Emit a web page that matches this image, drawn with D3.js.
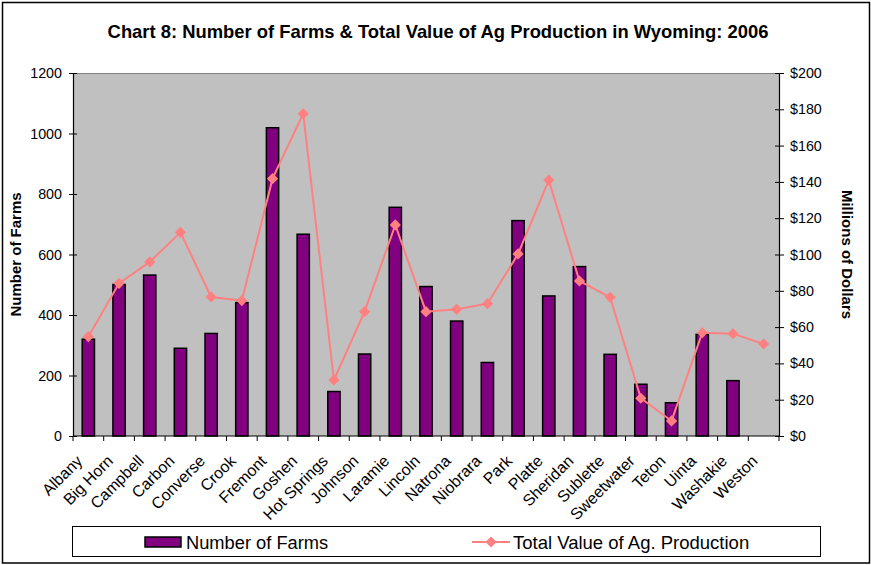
<!DOCTYPE html>
<html>
<head>
<meta charset="utf-8">
<script src="https://cdn.jsdelivr.net/npm/d3@7"></script>
<style>
  body { margin: 0; background: #fff; }
  svg { display: block; font-family: Arial, "Liberation Sans", sans-serif; }
</style>
</head>
<body>
<div id="wrapper"></div>
<script>
const counties = ["Albany", "Big Horn", "Campbell", "Carbon", "Converse", "Crook", "Fremont",
    "Goshen", "Hot Springs", "Johnson", "Laramie", "Lincoln", "Natrona", "Niobrara", "Park",
    "Platte", "Sheridan", "Sublette", "Sweetwater", "Teton", "Uinta", "Washakie", "Weston"];
const farms = [320, 501, 532, 290, 339, 441, 1019, 667, 147, 271, 756, 494, 380, 243, 712,
    463, 560, 270, 171, 110, 336, 183, 0];
const agValue = [54.7, 84.1, 95.9, 112.2, 76.6, 74.6, 141.8, 177.6, 30.9, 68.5, 116.3, 68.5,
    69.8, 72.9, 100.3, 141, 85.4, 76.4, 20.8, 8.3, 56.9, 56.4, 50.7];
const farmTicks = [0, 200, 400, 600, 800, 1000, 1200];
const dollarTicks = [0, 20, 40, 60, 80, 100, 120, 140, 160, 180, 200];

function buildChart() {
    const dims = {
        width: 871,
        height: 565,
        margin: { top: 73, left: 73, bottom: 129, right: 92 }
    };
    dims.boundedWidth = dims.width - dims.margin.left - dims.margin.right;
    dims.boundedHeight = dims.height - dims.margin.top - dims.margin.bottom;

    const svg = d3.select("#wrapper").append("svg")
        .attr("width", dims.width)
        .attr("height", dims.height);

    // outer frame
    svg.append("rect")
        .attr("x", 2.5).attr("y", 2.5)
        .attr("width", dims.width - 4).attr("height", dims.height - 4.5)
        .attr("fill", "#fff")
        .attr("stroke", "#000")
        .attr("stroke-width", 1.5);

    svg.append("text")
        .attr("x", 438)
        .attr("y", 38)
        .attr("text-anchor", "middle")
        .style("font-size", "18.4px")
        .style("font-weight", "bold")
        .text("Chart 8: Number of Farms & Total Value of Ag Production in Wyoming: 2006");

    const bounded = svg.append("g")
        .attr("transform", `translate(${dims.margin.left},${dims.margin.top})`);

    const xScale = d3.scaleBand()
        .domain(counties)
        .range([0, dims.boundedWidth]);

    const yScale = d3.scaleLinear()
        .domain([0, 1200])
        .range([dims.boundedHeight, 0]);

    const y2Scale = d3.scaleLinear()
        .domain([0, 200])
        .range([dims.boundedHeight, 0]);

    bounded.append("rect")
        .attr("width", dims.boundedWidth)
        .attr("height", dims.boundedHeight)
        .attr("fill", "#c0c0c0");
    bounded.append("line")
        .attr("x1", 0).attr("x2", dims.boundedWidth)
        .attr("y1", 0.5).attr("y2", 0.5)
        .attr("stroke", "#808080");

    const barW = xScale.bandwidth() * 0.4;
    bounded.selectAll(".bar")
        .data(counties.map((c, i) => ({ c, v: farms[i] })).filter(d => d.v > 0))
        .join("rect")
        .attr("class", "bar")
        .attr("x", d => xScale(d.c) + xScale.bandwidth() / 2 - barW / 2)
        .attr("y", d => yScale(d.v))
        .attr("width", barW)
        .attr("height", d => dims.boundedHeight - yScale(d.v))
        .attr("fill", "#800080")
        .attr("stroke", "#000")
        .attr("stroke-width", 1.5);

    // axes
    const leftAxis = d3.axisLeft(yScale).tickValues(farmTicks)
        .tickFormat(d3.format("d")).tickSize(0).tickPadding(11);
    const gL = bounded.append("g").call(leftAxis);
    gL.select(".domain").attr("stroke", "#000").attr("stroke-width", 1.2);
    gL.selectAll(".tick").append("line")
        .attr("x1", -4).attr("x2", 4).attr("stroke", "#000");
    gL.selectAll("text").style("font-size", "14.3px").attr("fill", "#000");

    const rightAxis = d3.axisRight(y2Scale).tickValues(dollarTicks)
        .tickFormat(d => "$" + d).tickSize(0).tickPadding(11);
    const gR = bounded.append("g")
        .attr("transform", `translate(${dims.boundedWidth},0)`)
        .call(rightAxis);
    gR.select(".domain").attr("stroke", "#000").attr("stroke-width", 1.2);
    gR.selectAll(".tick").append("line")
        .attr("x1", -4).attr("x2", 5).attr("stroke", "#000");
    gR.selectAll("text").style("font-size", "14.3px").attr("fill", "#000");

    const gB = bounded.append("g")
        .attr("transform", `translate(0,${dims.boundedHeight})`);
    gB.append("line")
        .attr("x1", 0).attr("x2", dims.boundedWidth)
        .attr("stroke", "#000").attr("stroke-width", 1.2);
    const edges = counties.map(c => xScale(c)).concat([dims.boundedWidth]);
    gB.selectAll(".xt")
        .data(edges)
        .join("line")
        .attr("class", "xt")
        .attr("x1", d => d).attr("x2", d => d)
        .attr("y1", 0).attr("y2", 5)
        .attr("stroke", "#000");
    gB.selectAll(".xl")
        .data(counties)
        .join("text")
        .attr("class", "xl")
        .attr("text-anchor", "end")
        .attr("transform", d => `translate(${xScale(d) + xScale.bandwidth() / 2 - 5},${26}) rotate(-45)`)
        .style("font-size", "16px")
        .text(d => d);

    // line series
    const lineGen = d3.line()
        .x((d, i) => xScale(counties[i]) + xScale.bandwidth() / 2)
        .y(d => y2Scale(d));
    bounded.append("path")
        .attr("d", lineGen(agValue))
        .attr("fill", "none")
        .attr("stroke", "#ff8080")
        .attr("stroke-width", 2);
    const diamond = d3.symbol().type(d3.symbolDiamond2).size(80);
    bounded.selectAll(".mk")
        .data(agValue)
        .join("path")
        .attr("class", "mk")
        .attr("d", diamond)
        .attr("transform", (d, i) => `translate(${xScale(counties[i]) + xScale.bandwidth() / 2},${y2Scale(d)})`)
        .attr("fill", "#ff8080");

    // axis titles
    svg.append("text")
        .attr("transform", `translate(21,${dims.margin.top + dims.boundedHeight / 2}) rotate(-90)`)
        .attr("text-anchor", "middle")
        .style("font-size", "15px")
        .style("font-weight", "bold")
        .text("Number of Farms");
    svg.append("text")
        .attr("transform", `translate(842,${dims.margin.top + dims.boundedHeight / 2}) rotate(90)`)
        .attr("text-anchor", "middle")
        .style("font-size", "15px")
        .style("font-weight", "bold")
        .text("Millions of Dollars");

    // legend
    const legend = svg.append("g");
    legend.append("rect")
        .attr("x", 72.5).attr("y", 526.5)
        .attr("width", 748).attr("height", 30)
        .attr("fill", "#fff")
        .attr("stroke", "#000");
    legend.append("rect")
        .attr("x", 145).attr("y", 537)
        .attr("width", 36).attr("height", 10)
        .attr("fill", "#800080")
        .attr("stroke", "#000")
        .attr("stroke-width", 1.5);
    legend.append("text")
        .attr("x", 186).attr("y", 548.5)
        .style("font-size", "18.3px")
        .text("Number of Farms");
    legend.append("line")
        .attr("x1", 472).attr("x2", 510)
        .attr("y1", 542).attr("y2", 542)
        .attr("stroke", "#ff8080").attr("stroke-width", 2);
    legend.append("path")
        .attr("d", diamond)
        .attr("transform", "translate(491,542)")
        .attr("fill", "#ff8080");
    legend.append("text")
        .attr("x", 513).attr("y", 548.5)
        .style("font-size", "18.5px")
        .text("Total Value of Ag. Production");
}

buildChart();
</script>
</body>
</html>
